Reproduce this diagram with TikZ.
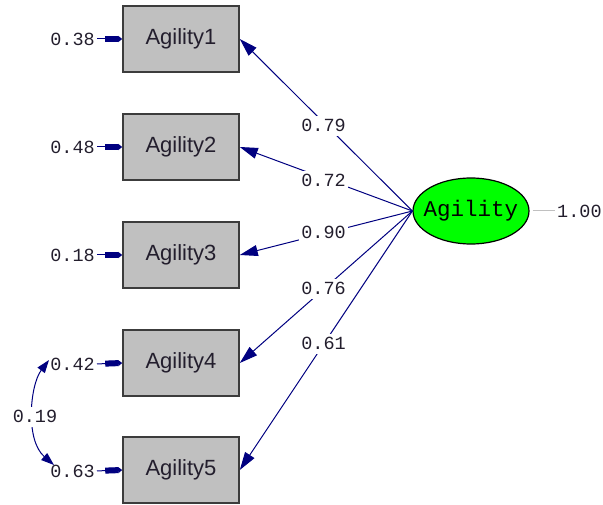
\documentclass[tikz,border=0pt]{standalone}
\usepackage{fontspec}
\setmainfont{Liberation Sans}
\newfontfamily\monofont{Liberation Mono}
\usetikzlibrary{arrows.meta,shapes.geometric}
\definecolor{pathblue}{RGB}{0,0,128}
\definecolor{boxgray}{RGB}{192,192,192}
\definecolor{edgegray}{RGB}{60,60,60}
\definecolor{latgreen}{RGB}{0,255,0}
\definecolor{numcol}{RGB}{35,30,45}
\begin{document}
\begin{tikzpicture}[x=1pt,y=-1pt,
  obs/.style={draw=edgegray,line width=1.6pt,fill=boxgray,minimum width=116pt,
    minimum height=66pt,inner sep=0pt,text=numcol,font=\fontsize{22}{24}\selectfont},
  lat/.style={ellipse,draw=black,line width=1.2pt,fill=latgreen,minimum width=116pt,
    minimum height=66pt,inner sep=0pt},
  latname/.style={inner sep=0pt,font=\monofont\fontsize{22.5}{24}\selectfont},
  num/.style={font=\monofont\fontsize{18.5}{20}\selectfont,text=numcol,inner sep=0pt},
  lbl/.style={num,fill=white,inner sep=2pt,text height=13pt,text depth=3pt},
  load/.style={draw=pathblue,line width=1pt,-{Triangle[length=18pt,width=11pt]}},
  err/.style={draw=pathblue,line width=1pt,shorten <=2pt,
    -{Rectangle[length=13pt,width=6pt]Triangle[length=4pt,width=6pt]}},
  cov/.style={draw=pathblue,line width=1pt,
    {Triangle[length=13pt,width=9pt]}-{Triangle[length=13pt,width=9pt]}},
]
\useasboundingbox (0,0) rectangle (603,505);

% observed indicators
\node[obs] (x1) at (181,39)  {Agility1};
\node[obs] (x2) at (181,147) {Agility2};
\node[obs] (x3) at (181,255) {Agility3};
\node[obs] (x4) at (181,363) {Agility4};
\node[obs] (x5) at (181,470) {Agility5};

% latent factor
\node[lat] (A) at (471,211) {};
\node[latname] (An) at (A.center) {Agility};
\node[num,anchor=west] (v) at (557,211) {1.00};
\draw[draw=boxgray,line width=1pt,shorten <=3pt,shorten >=2pt] (A.east) -- (v.west);

% error variances
\node[num,anchor=east] (e1) at (95,39)  {0.38};
\node[num,anchor=east] (e2) at (95,147) {0.48};
\node[num,anchor=east] (e3) at (95,255) {0.18};
\node[num,anchor=east] (e4) at (95,364) {0.42};
\node[num,anchor=east] (e5) at (95,471) {0.63};
\foreach \i in {1,...,5} \draw[err] (e\i.east) -- (x\i.west);

% factor loadings
\draw[load] (A.west) -- (x1.east) node[lbl,pos=0.515,yshift=-4pt] {0.79};
\draw[load] (A.west) -- (x2.east) node[lbl,pos=0.515,yshift=-3pt] {0.72};
\draw[load] (A.west) -- (x3.east) node[lbl,pos=0.515] {0.90};
\draw[load] (A.west) -- (x4.east) node[lbl,pos=0.515] {0.76};
\draw[load] (A.west) -- (x5.east) node[lbl,pos=0.515] {0.61};

% error covariance between Agility4 and Agility5
\coordinate (c4) at (49,360);
\coordinate (c5) at (54,465);
\draw[cov] (c4) .. controls (30,385) and (25,440) .. (c5);
\node[lbl] (r45) at (35,417) {0.19};
\end{tikzpicture}
\end{document}
